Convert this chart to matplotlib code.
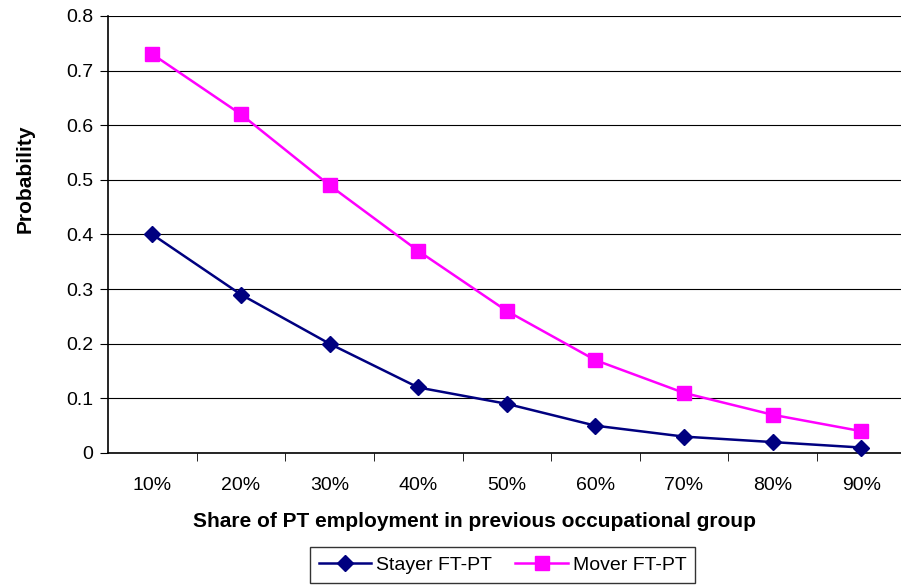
import matplotlib
matplotlib.use("Agg")
import matplotlib.pyplot as plt

plt.rcParams['font.family'] = ['Liberation Sans', 'DejaVu Sans']

categories = ["10%", "20%", "30%", "40%", "50%", "60%", "70%", "80%", "90%"]
stayer = [0.40, 0.29, 0.20, 0.12, 0.09, 0.05, 0.03, 0.02, 0.01]
mover = [0.73, 0.62, 0.49, 0.37, 0.26, 0.17, 0.11, 0.07, 0.04]

fig = plt.figure(figsize=(9.01, 5.88), dpi=100)
ax = fig.add_axes([0.12, 0.2296, 0.885, 0.7432])

x = list(range(len(categories)))
ax.plot(x, stayer, color="#000080", marker="D", markersize=8, linewidth=1.8,
        label="Stayer FT-PT", clip_on=False, zorder=3)
ax.plot(x, mover, color="#FF00FF", marker="s", markersize=10, linewidth=1.8,
        label="Mover FT-PT", clip_on=False, zorder=3)

ax.set_xlim(-0.5, len(categories) - 0.5)
ax.set_ylim(0, 0.8)
ax.set_yticks([i / 10 for i in range(9)])
ax.set_yticklabels(["0"] + ["%.1f" % (i / 10) for i in range(1, 9)])
ax.set_xticks(x)
ax.set_xticklabels(categories)
ax.set_xticks([i - 0.5 for i in range(1, len(categories))], minor=True)
ax.tick_params(axis="x", which="major", length=0, pad=17, labelsize=14)
ax.tick_params(axis="x", which="minor", length=6, direction="out", color="black")
ax.tick_params(axis="y", length=5.5, direction="out", labelsize=14, pad=5)

ax.grid(axis="y", color="black", linewidth=0.8)
ax.set_axisbelow(True)
for side in ["top", "right"]:
    ax.spines[side].set_visible(False)
ax.spines["left"].set_linewidth(1.2)
ax.spines["bottom"].set_linewidth(1.2)

ax.set_ylabel("Probability", fontsize=15, fontweight="bold", labelpad=23)
ax.set_xlabel("Share of PT employment in previous occupational group",
              fontsize=15, fontweight="bold", labelpad=13)
# the original chart centres its titles off the plot centre
ax.yaxis.label.set_y(0.628)
ax.xaxis.label.set_x(0.459)

leg = fig.legend(loc="center", bbox_to_anchor=(0.5577, 0.0391),
                 ncol=2, frameon=True, fancybox=False, edgecolor="black",
                 fontsize=14, handlelength=2.7, borderpad=0.45, columnspacing=1.2,
                 handletextpad=0.25)
leg.get_frame().set_linewidth(1.0)

fig.savefig("out.png", dpi=100)
